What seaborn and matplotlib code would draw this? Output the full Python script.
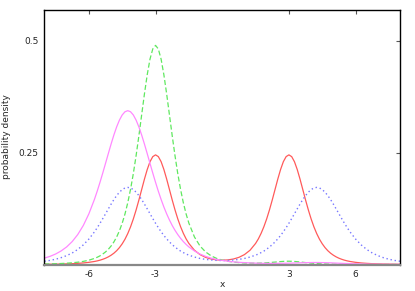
import numpy as np
import pandas as pd
import matplotlib
matplotlib.use("Agg")
import matplotlib.pyplot as plt
import seaborn as sns

# coarse sample grid, step 0.25 from -8 to 8
x = np.linspace(-8, 8, 65)
# extra samples half way between, around the peaks
x_mid = np.concatenate([np.linspace(-5.625, -1.625, 17), np.linspace(1.625, 5.625, 17)])

# values
red = [0.0005, 0.0007, 0.0009, 0.0011, 0.0015, 0.0019, 0.0026, 0.0035, 0.0049,
       0.0068, 0.0097, 0.0141, 0.0208, 0.0309, 0.0463, 0.0692, 0.1018, 0.1441,
       0.1909, 0.2298, 0.2452, 0.2300, 0.1911, 0.1443, 0.1021, 0.0698, 0.0471,
       0.0319, 0.0222, 0.0160, 0.0123, 0.0103, 0.0097,
       0.0103, 0.0123, 0.0160, 0.0222, 0.0319, 0.0471, 0.0698, 0.1021, 0.1443,
       0.1911, 0.2300, 0.2452, 0.2298, 0.1909, 0.1441, 0.1018, 0.0692, 0.0463,
       0.0309, 0.0208, 0.0141, 0.0097, 0.0068, 0.0049, 0.0035, 0.0026, 0.0019,
       0.0015, 0.0011, 0.0009, 0.0007, 0.0005]
red_mid = [0.0081, 0.0117, 0.0171, 0.0253, 0.0378, 0.0566, 0.0842, 0.1219, 0.1675,
           0.2123, 0.2412, 0.2413, 0.2125, 0.1677, 0.1222, 0.0847, 0.0573,
           0.0573, 0.0847, 0.1222, 0.1677, 0.2125, 0.2413, 0.2412, 0.2123, 0.1675,
           0.1219, 0.0842, 0.0566, 0.0378, 0.0253, 0.0171, 0.0117, 0.0081]

green = [0.0011, 0.0014, 0.0017, 0.0023, 0.0029, 0.0039, 0.0052, 0.0070, 0.0097,
         0.0136, 0.0194, 0.0282, 0.0414, 0.0616, 0.0924, 0.1382, 0.2032, 0.2878,
         0.3814, 0.4592, 0.4900, 0.4592, 0.3814, 0.2878, 0.2032, 0.1382, 0.0924,
         0.0616, 0.0414, 0.0282, 0.0194, 0.0136, 0.0098,
         0.0072, 0.0055, 0.0043, 0.0035, 0.0032, 0.0030, 0.0033, 0.0039, 0.0049,
         0.0060, 0.0070, 0.0074, 0.0068, 0.0057, 0.0043, 0.0031, 0.0022, 0.0015,
         0.0011, 0.0008, 0.0006, 0.0005, 0.0004, 0.0003, 0.0003, 0.0002, 0.0002,
         0.0002, 0.0001, 0.0001, 0.0001, 0.0001]
green_mid = [0.0162, 0.0234, 0.0340, 0.0504, 0.0754, 0.1130, 0.1682, 0.2434, 0.3346,
             0.4242, 0.4820, 0.4820, 0.4242, 0.3346, 0.2434, 0.1682, 0.1130,
             0.0031, 0.0036, 0.0044, 0.0054, 0.0066, 0.0073, 0.0072, 0.0063, 0.0050,
             0.0037, 0.0026, 0.0018, 0.0013, 0.0009, 0.0007, 0.0005, 0.0004]

blue = [0.0073, 0.0092, 0.0118, 0.0153, 0.0199, 0.0258, 0.0337, 0.0439, 0.0569,
        0.0729, 0.0921, 0.1134, 0.1350, 0.1541, 0.1675, 0.1724, 0.1676, 0.1542,
        0.1352, 0.1136, 0.0923, 0.0733, 0.0574, 0.0445, 0.0344, 0.0267, 0.0210,
        0.0167, 0.0136, 0.0115, 0.0101, 0.0092, 0.0090,
        0.0092, 0.0101, 0.0115, 0.0136, 0.0167, 0.0210, 0.0267, 0.0344, 0.0445,
        0.0574, 0.0733, 0.0923, 0.1136, 0.1352, 0.1542, 0.1676, 0.1724, 0.1675,
        0.1541, 0.1350, 0.1134, 0.0921, 0.0729, 0.0569, 0.0439, 0.0337, 0.0258,
        0.0199, 0.0153, 0.0118, 0.0092, 0.0073]
blue_mid = [0.0822, 0.1026, 0.1243, 0.1451, 0.1617, 0.1712, 0.1712, 0.1618, 0.1453,
            0.1245, 0.1028, 0.0825, 0.0649, 0.0505, 0.0391, 0.0301, 0.0234,
            0.0234, 0.0301, 0.0391, 0.0505, 0.0649, 0.0825, 0.1028, 0.1245, 0.1453,
            0.1618, 0.1712, 0.1712, 0.1617, 0.1451, 0.1243, 0.1026, 0.0822]

magenta = [0.0143, 0.0182, 0.0234, 0.0303, 0.0393, 0.0513, 0.0670, 0.0873, 0.1133,
           0.1455, 0.1837, 0.2262, 0.2694, 0.3077, 0.3344, 0.3440, 0.3344, 0.3077,
           0.2694, 0.2262, 0.1837, 0.1455, 0.1133, 0.0873, 0.0670, 0.0513, 0.0393,
           0.0303, 0.0234, 0.0182, 0.0143, 0.0113, 0.0091,
           0.0073, 0.0060, 0.0049, 0.0042, 0.0036, 0.0031, 0.0028, 0.0026, 0.0025,
           0.0026, 0.0028, 0.0030, 0.0034, 0.0038, 0.0042, 0.0044, 0.0045, 0.0043,
           0.0040, 0.0035, 0.0029, 0.0024, 0.0020, 0.0016, 0.0012, 0.0010, 0.0008,
           0.0007, 0.0005, 0.0004, 0.0003, 0.0003]
magenta_mid = [0.1639, 0.2046, 0.2480, 0.2896, 0.3229, 0.3416, 0.3416, 0.3229, 0.2896,
               0.2480, 0.2046, 0.1639, 0.1286, 0.0996, 0.0765, 0.0586, 0.0449,
               0.0029, 0.0027, 0.0025, 0.0025, 0.0027, 0.0029, 0.0032, 0.0036, 0.0040,
               0.0043, 0.0045, 0.0044, 0.0042, 0.0038, 0.0032, 0.0027, 0.0022]

xticks = [-6, -3, 3, 6]
yticks = [0.25, 0.5]
ytick_labels = ["0.25", "0.5"]

# merge coarse and mid samples, sorted by x
xs = np.concatenate([x, x_mid])
order = np.argsort(xs)
df = pd.DataFrame({
    'x': xs[order],
    'red': np.concatenate([red, red_mid])[order],
    'green': np.concatenate([green, green_mid])[order],
    'blue': np.concatenate([blue, blue_mid])[order],
    'magenta': np.concatenate([magenta, magenta_mid])[order],
})

sns.set_style("white")
plt.rcParams['font.family'] = ['DejaVu Sans']

fig, ax = plt.subplots(figsize=(4.15, 2.91), dpi=100)
fig.subplots_adjust(left=0.107, right=0.964, top=0.967, bottom=0.091)

sns.lineplot(data=df, x='x', y='red', ax=ax, color='#ff5a5a', lw=0.9)
sns.lineplot(data=df, x='x', y='green', ax=ax, color='#5fe85f', lw=0.9,
             linestyle=(0, (4, 2)))
sns.lineplot(data=df, x='x', y='blue', ax=ax, color='#7777ff', lw=1.0,
             linestyle=(0, (1, 2)))
sns.lineplot(data=df, x='x', y='magenta', ax=ax, color='#ff88ff', lw=0.9)

ax.set_xlim(-8, 8)
ax.set_ylim(0, 0.57)
ax.set_xticks(xticks)
ax.set_xticklabels([str(t) for t in xticks])
ax.set_yticks(yticks)
ax.set_yticklabels(ytick_labels)
ax.tick_params(direction='in', length=3, width=0.8, labelsize=6.5, pad=4,
               top=True, right=True, color='#555555')
ax.set_xlabel('x', fontsize=6.5, labelpad=1)
ax.set_ylabel('probability density', fontsize=6.5, labelpad=6)

for side in ['left', 'top', 'right']:
    ax.spines[side].set_color('black')
    ax.spines[side].set_linewidth(1.0)
ax.spines['bottom'].set_color('#888888')
ax.spines['bottom'].set_linewidth(1.6)

fig.savefig('out.png', dpi=100)
